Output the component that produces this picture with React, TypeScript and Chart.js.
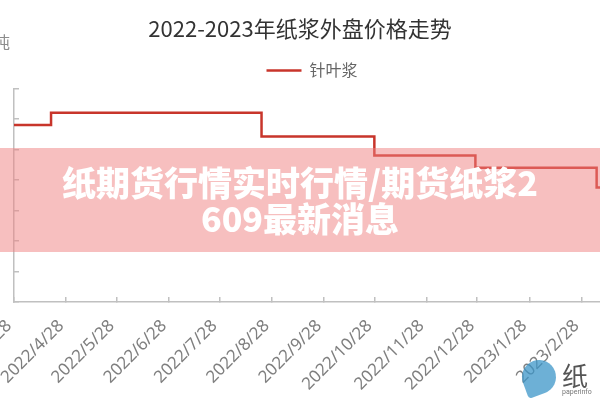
import React, { useEffect, useRef } from 'react';
import { Chart, registerables } from 'chart.js';

Chart.register(...registerables);

// ---- data ----
const titleText = '2022-2023年纸浆外盘价格走势';
const seriesName = '针叶浆';
const unitText = '美元/吨';
const axisStart = '2022/3/28';
const axisEnd = '2023/3/11';
const tickDates = [
  '2022/3/28', '2022/4/28', '2022/5/28', '2022/6/28', '2022/7/28', '2022/8/28',
  '2022/9/28', '2022/10/28', '2022/11/28', '2022/12/28', '2023/1/28', '2023/2/28',
];
const stepDates = ['2022/3/28', '2022/4/19', '2022/8/22', '2022/10/28', '2022/12/27', '2023/3/9', '2023/3/20'];
const stepPrices = [1160, 1240, 1085, 960, 880, 750, 750];
const yMin = 0;
const yMax = 1400;
const yStep = 200;
const bannerLines = ['纸期货行情实时行情/期货纸浆2', '609最新消息'];

const parseDate = (s: string) => {
  const [y, m, d] = s.split('/').map(Number);
  return Date.UTC(y, m - 1, d);
};
const toDay = (s: string) => Math.round((parseDate(s) - parseDate(axisStart)) / 86400000);

const AXIS_GREY = '#c0c0c0';
const LINE_RED = '#c8352b';

export default function App() {
  const canvasRef = useRef<HTMLCanvasElement | null>(null);

  useEffect(() => {
    const canvas = canvasRef.current;
    if (!canvas) return;

    const tickDays = tickDates.map(toDay);

    const unitPlugin = {
      id: 'unitLabel',
      afterDraw(chart: any) {
        const ctx = chart.ctx;
        ctx.save();
        ctx.font = '16px "Noto Sans CJK SC"';
        ctx.fillStyle = '#8c8c8c';
        ctx.textAlign = 'right';
        ctx.textBaseline = 'middle';
        ctx.fillText(unitText, 10, 42);
        ctx.restore();
      },
    };

    const legendShift = {
      id: 'legendShift',
      afterLayout(chart: any) {
        if (chart.legend) {
          chart.legend.left += 12;
          chart.legend.right += 12;
        }
      },
    };

    const chart = new Chart(canvas, {
      type: 'line',
      data: {
        datasets: [
          {
            label: seriesName,
            data: stepDates.map((d, i) => ({ x: toDay(d), y: stepPrices[i] })),
            borderColor: LINE_RED,
            backgroundColor: LINE_RED,
            borderWidth: 2.5,
            pointRadius: 0,
            stepped: 'before',
            fill: false,
          },
        ],
      },
      options: {
        responsive: false,
        animation: false,
        layout: { padding: { left: 0, right: 0, top: 0, bottom: 0 } },
        plugins: {
          title: {
            display: true,
            text: titleText,
            color: '#333333',
            font: { family: '"Noto Sans CJK SC"', size: 22, weight: 'normal' },
            padding: { top: 15, bottom: 11 },
          },
          legend: {
            display: true,
            position: 'top',
            labels: {
              usePointStyle: true,
              pointStyle: 'line',
              pointStyleWidth: 35,
              color: '#666666',
              font: { family: '"Noto Sans CJK SC"', size: 16 },
              padding: 10,
            },
          },
          tooltip: { enabled: false },
        },
        scales: {
          x: {
            type: 'linear',
            min: 0,
            max: toDay(axisEnd),
            afterBuildTicks: (s: any) => {
              s.ticks = tickDays.map((v) => ({ value: v }));
            },
            afterFit: (s: any) => {
              s.paddingLeft = 0;
              s.paddingRight = 0;
              s.height = 98;
            },
            ticks: {
              autoSkip: false,
              minRotation: 45,
              maxRotation: 45,
              padding: 19,
              labelOffset: -5,
              color: '#7f7f7f',
              font: { family: '"Noto Sans"', size: 17 },
              callback: (v: any) => {
                const i = tickDays.indexOf(Number(v));
                return i >= 0 ? tickDates[i] : '';
              },
            },
            grid: {
              drawOnChartArea: false,
              drawTicks: true,
              tickLength: -5,
              color: AXIS_GREY,
              lineWidth: 1.5,
            },
            border: { display: true, color: AXIS_GREY, width: 1.5 },
          },
          y: {
            type: 'linear',
            min: yMin,
            max: yMax,
            afterFit: (s: any) => {
              s.width = 14;
              s.paddingTop = 0;
              s.paddingBottom = 0;
            },
            ticks: { stepSize: yStep, display: false },
            grid: {
              drawOnChartArea: false,
              drawTicks: true,
              tickLength: -5,
              color: AXIS_GREY,
              lineWidth: 1.5,
            },
            border: { display: true, color: AXIS_GREY, width: 1.5 },
          },
        },
      } as any,
      plugins: [unitPlugin, legendShift],
    });

    return () => chart.destroy();
  }, []);

  return (
    <div
      style={{
        position: 'fixed',
        left: 0,
        top: 0,
        width: 600,
        height: 400,
        overflow: 'hidden',
        background: '#ffffff',
      }}
    >
      <canvas ref={canvasRef} width={600} height={400} style={{ width: 600, height: 400, display: 'block' }} />
      <div
        style={{
          position: 'absolute',
          left: 0,
          top: 148,
          width: 600,
          height: 104,
          background: 'rgba(240,128,128,0.5)',
          display: 'flex',
          flexDirection: 'column',
          justifyContent: 'center',
          alignItems: 'center',
          color: '#ffffff',
          fontFamily: '"Noto Sans CJK SC", sans-serif',
          fontWeight: 900,
          fontSize: 34,
          lineHeight: '36px',
          whiteSpace: 'nowrap',
        }}
      >
        {bannerLines.map((t) => (
          <div key={t}>{t}</div>
        ))}
      </div>
      <div style={{ position: 'absolute', left: 518, top: 358, width: 82, height: 42, pointerEvents: 'none' }}>
        <div
          style={{
            position: 'absolute',
            left: 4,
            top: 2,
            width: 34,
            height: 34,
            borderRadius: '50% 50% 50% 10%',
            background: 'rgba(60,150,200,0.75)',
            transform: 'rotate(-20deg)',
          }}
        />
        <div
          style={{
            position: 'absolute',
            left: 44,
            top: -2,
            fontFamily: '"Noto Sans CJK SC", sans-serif',
            fontSize: 26,
            color: '#555',
          }}
        >
          纸浆
        </div>
        <div style={{ position: 'absolute', left: 44, top: 30, fontFamily: 'Roboto, sans-serif', fontSize: 7, color: '#777' }}>
          paperinfo
        </div>
      </div>
    </div>
  );
}
